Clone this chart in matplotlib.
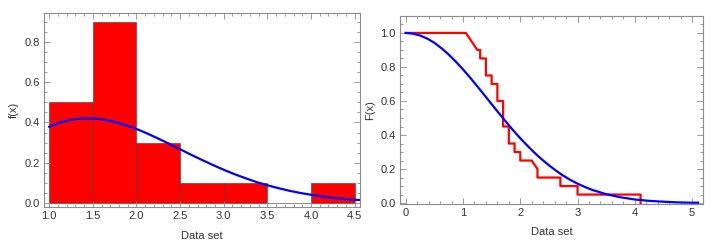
import numpy as np
import matplotlib.pyplot as plt
import matplotlib.ticker as ticker

plt.rcParams['font.family'] = ['Liberation Sans', 'DejaVu Sans']

# histogram (density) of the data set
bin_edges = [1.0, 1.5, 2.0, 2.5, 3.0, 3.5, 4.0, 4.5]
bin_heights = [0.5, 0.9, 0.3, 0.1, 0.1, 0.0, 0.1]

# fitted density curve
pdf_x = [1.0, 1.125, 1.25, 1.375, 1.5, 1.625, 1.75, 1.875, 2.0, 2.125, 2.25,
         2.375, 2.5, 2.625, 2.75, 2.875, 3.0, 3.125, 3.25, 3.375, 3.5, 3.625,
         3.75, 3.875, 4.0, 4.125, 4.25, 4.375, 4.5, 4.6]
pdf_y = [0.379, 0.400, 0.414, 0.420, 0.420, 0.415, 0.403, 0.387, 0.368,
         0.345, 0.320, 0.294, 0.267, 0.240, 0.214, 0.189, 0.165, 0.143,
         0.123, 0.104, 0.088, 0.074, 0.061, 0.050, 0.041, 0.033, 0.026,
         0.021, 0.016, 0.014]

# empirical survival curve (vertices)
emp_x = [0.0, 1.05, 1.25, 1.3, 1.3, 1.4, 1.4, 1.5, 1.5, 1.6, 1.6, 1.7, 1.7,
         1.8, 1.8, 1.9, 1.9, 2.0, 2.0, 2.2, 2.3, 2.3, 2.7, 2.7, 3.0, 3.0,
         4.1, 4.1]
emp_y = [1.0, 1.0, 0.9, 0.9, 0.85, 0.85, 0.75, 0.75, 0.7, 0.7, 0.6, 0.6, 0.45,
         0.45, 0.35, 0.35, 0.3, 0.3, 0.25, 0.25, 0.2, 0.15, 0.15, 0.1, 0.1, 0.05,
         0.05, 0.0]

# fitted survival curve
sf_x = [0.0, 0.125, 0.25, 0.375, 0.5, 0.625, 0.75, 0.875, 1.0, 1.125, 1.25,
        1.375, 1.5, 1.625, 1.75, 1.875, 2.0, 2.125, 2.25, 2.375, 2.5, 2.625,
        2.75, 2.875, 3.0, 3.125, 3.25, 3.5, 3.75, 4.0, 4.25, 4.5, 4.75, 5.0,
        5.1]
sf_y = [1.0, 0.996, 0.985, 0.967, 0.942, 0.910, 0.873, 0.831, 0.786, 0.737,
        0.686, 0.634, 0.581, 0.529, 0.478, 0.428, 0.381, 0.337, 0.295, 0.257,
        0.222, 0.190, 0.161, 0.136, 0.114, 0.095, 0.078, 0.052, 0.034, 0.021,
        0.013, 0.008, 0.004, 0.002, 0.002]

frame_col = '#8c8c8c'
text_col = '#333333'


def style(ax, xmaj, xmin, ymaj, ymin):
    for s in ax.spines.values():
        s.set_color(frame_col)
        s.set_linewidth(0.8)
    ax.xaxis.set_major_locator(ticker.MultipleLocator(xmaj))
    ax.xaxis.set_minor_locator(ticker.MultipleLocator(xmin))
    ax.yaxis.set_major_locator(ticker.MultipleLocator(ymaj))
    ax.yaxis.set_minor_locator(ticker.MultipleLocator(ymin))
    ax.tick_params(which='both', direction='in', top=True, right=True,
                   color=frame_col, labelcolor=text_col, labelsize=8, width=0.6)
    ax.tick_params(which='major', length=4, pad=3)
    ax.tick_params(which='minor', length=2)


fig = plt.figure(figsize=(7.13, 2.45), dpi=100)

ax1 = fig.add_axes([0.0617, 0.155, 0.443, 0.792])
widths = np.diff(bin_edges)
ax1.bar(bin_edges[:-1], bin_heights, width=widths, align='edge',
        color='#ff0000', edgecolor=(0.25, 0.25, 0.25, 0.7), linewidth=0.6)
ax1.plot(pdf_x, pdf_y, color='#0000ff', linewidth=1.6)
ax1.set_xlim(0.94, 4.56)
ax1.set_ylim(-0.02, 0.944)
ax1.xaxis.set_major_formatter(ticker.FormatStrFormatter('%.1f'))
ax1.yaxis.set_major_formatter(ticker.FormatStrFormatter('%.1f'))
style(ax1, 0.5, 0.1, 0.2, 0.05)
ax1.set_xlabel('Data set', fontsize=8, color=text_col, labelpad=7)
ax1.set_ylabel('f(x)', fontsize=8, color=text_col, labelpad=4)

ax2 = fig.add_axes([0.561, 0.167, 0.425, 0.768])
ax2.plot(emp_x, emp_y, color='#ff0000', linewidth=1.6)
ax2.plot(sf_x, sf_y, color='#0000ff', linewidth=1.6)
ax2.set_xlim(-0.1, 5.19)
ax2.set_ylim(-0.006, 1.1)
ax2.yaxis.set_major_formatter(ticker.FormatStrFormatter('%.1f'))
style(ax2, 1, 0.2, 0.2, 0.05)
ax2.set_xlabel('Data set', fontsize=8, color=text_col, labelpad=6)
ax2.set_ylabel('F(x)', fontsize=8, color=text_col, labelpad=4)

fig.savefig('out.png', dpi=100)
